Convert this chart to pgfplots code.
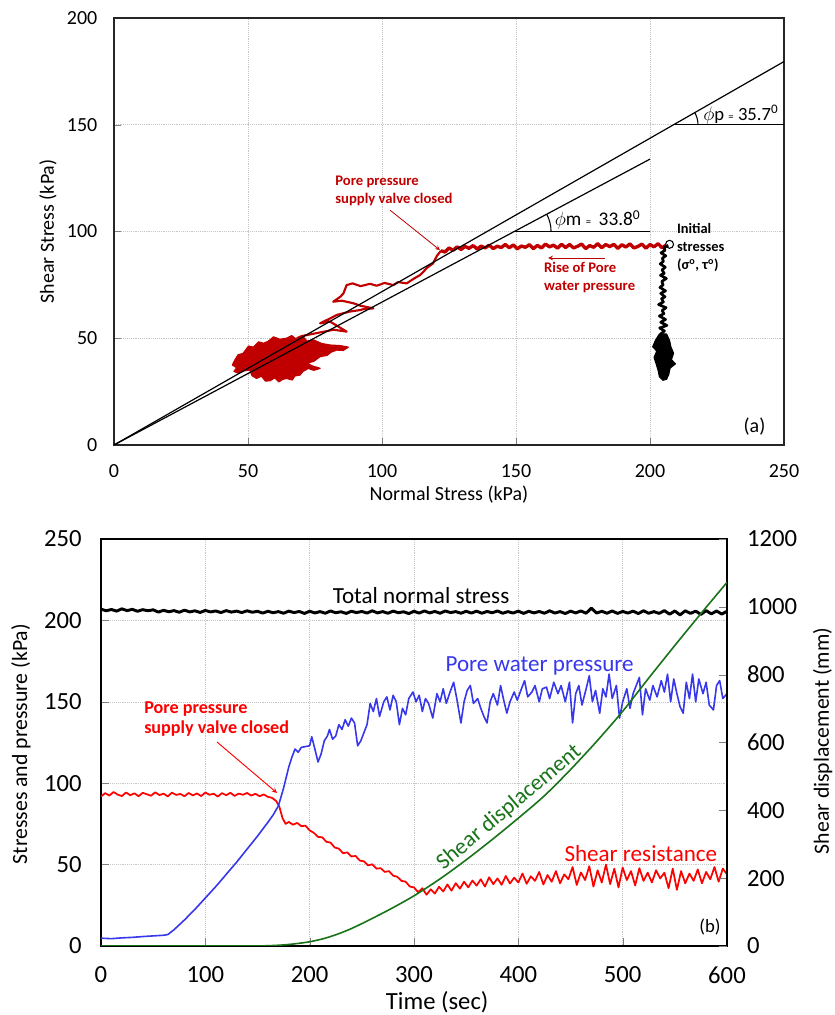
\documentclass[border=0pt]{standalone}
\usepackage{fontspec}
\setmainfont{Carlito}
\usepackage{pgfplots}
\pgfplotsset{compat=1.18}
\definecolor{darkred}{RGB}{192,0,0}
\definecolor{pwpblue}{RGB}{55,55,235}
\definecolor{dispgreen}{RGB}{25,115,25}

\begin{document}
\begin{tikzpicture}
\useasboundingbox (0,0) rectangle (626.25pt,761.25pt);

% ---------- panel (a): stress path ----------
\begin{axis}[
  at={(85.5pt,427.5pt)}, anchor=south west,
  scale only axis, width=502.5pt, height=320.25pt,
  xmin=0, xmax=250, ymin=0, ymax=200,
  xtick={0,50,...,250}, ytick={0,50,...,200},
  tick pos=left, tick align=inside, major tick length=5pt,
  grid=major, major grid style={densely dotted, gray!45},
  axis line style={black!85, line width=0.8pt},
  /pgf/number format/assume math mode=true,
  ticklabel style={font=\fontsize{15}{15}\selectfont},
  xticklabel style={yshift=-11pt}, yticklabel style={xshift=-9pt},
  xlabel={Normal Stress (kPa)}, ylabel={Shear Stress (kPa)},
  label style={font=\fontsize{15}{15}\selectfont},
  xlabel style={at={(axis description cs:0.5,-0.115)}, anchor=center},
  ylabel style={at={(axis description cs:-0.0985,0.5)}, anchor=center},
]
% stress path after closing valve (red): horizontal part
\addplot[darkred, line width=2.5pt, line join=round] coordinates {
(206,93.6)(204.5,92.4)(203,94.3)(201.5,92.8)(200,93.9)(198.5,92.2)(197,94.1)(195.5,93.0)(194,92.3)(192.5,94.2)
(191,92.7)(189.5,93.8)(188,92.1)(186.5,94.0)(185,92.9)(183.5,93.9)(182,92.4)(180.5,94.3)(179,92.6)(177.5,93.4)
(176,92.0)(174.5,94.1)(173,93.1)(171.5,92.3)(170,93.9)(168.5,92.5)(167,94.0)(165.5,92.2)(164,93.6)(162.5,92.8)
(161,94.1)(159.5,92.3)(158,93.5)(156.5,92.0)(155,93.8)(153.5,92.6)(152,93.2)(150.5,91.9)(149,93.7)(147.5,92.4)
(146,93.9)(144.5,92.5)(143,93.1)(141.5,92.0)(140,93.6)(138.5,92.3)(137,93.2)(135.5,91.8)(134,93.4)(132.5,92.1)
(131,93.0)(129.5,91.6)(128,92.8)(126.5,91.2)(125,92.3)(123.5,90.4)(122,91.0)
};
% red: descent along the envelope
\addplot[darkred, line width=1.6pt, line join=round] coordinates {
(122,91.0)(120.5,88.6)(119,85.0)(117,83.2)(114.2,79.6)(112,78.0)(109.2,75.7)(106,76.3)(104.2,74.9)(101,75.9)
(98,74.6)(95.5,75.5)(92,74.4)(89,75.7)(86.8,74.9)(85.6,71.0)(84.5,69.5)(81.8,67.1)(85,67.6)(89.3,66.4)
(92,65.2)(96.8,64.0)(93,63.6)(91.8,63.2)(88,62.5)(83.1,60.9)(81,59.5)(76.9,57.0)(80.6,57.8)(83,56.0)
(86.8,53.1)(82,54.0)(78,53.0)(74,52.0)(70,51.0)(68.2,50.0)
};
% red: dense end of the path
\addplot[darkred, fill=darkred, line width=1pt, line join=round] coordinates {
(45.1,39.8)(44.2,37.5)(45.8,36.2)(44.8,34.5)(46.5,33.6)(48.5,34.8)(50.7,35.1)(51.5,32.5)(53.2,31.2)(55,32.3)
(56.5,30.0)(58.2,30.1)(60,31.5)(61.5,29.6)(63,30.8)(64.4,31.2)(66.5,30.5)(67.5,32.4)(69.4,32.8)(70.5,34.5)
(72.5,35.9)(74.5,35.0)(76.9,35.9)(74,37.0)(71.9,38.3)(74.5,39.2)(76.9,41.4)(79.5,42.0)(81,43.5)(83.1,44.5)
(85.5,44.3)(87.4,45.8)(84.5,46.5)(80.6,46.8)(77.5,47.5)(74.4,49.2)(72,48.6)(70.6,50.7)(68,49.6)(66.3,51.2)
(64.4,50.0)(61.9,49.5)(59.5,50.6)(57.5,48.5)(55.7,47.6)(54,48.3)(52,45.8)(50.2,46.3)(48.2,42.9)(46.3,42.2)
(45.1,39.8)
};
% stress path before closing valve (black)
\addplot[black, line width=2pt, line join=round] coordinates {
(206.8,93.5)(205.2,92.5)(205.6,91.2)(204.1,90.0)(205.9,88.6)(204.6,87.5)(205.0,86.0)(203.8,84.8)(205.7,83.3)(204.5,82.0)
(205.3,80.4)(203.9,79.5)(206.1,78.0)(204.4,76.6)(204.9,75.0)(203.7,73.8)(205.8,72.2)(204.0,71.0)(205.6,69.4)(204.3,68.5)
(205.0,67.0)(203.2,65.8)(206.0,64.3)(204.5,63.0)(205.2,61.5)(203.5,60.4)(205.8,58.8)(204.0,57.5)(206.3,56.0)(203.6,54.8)
(205.4,53.4)(204.0,52.0)(206.0,50.5)
};
\addplot[black, fill=black, line width=0.8pt, line join=round] coordinates {
(203.5,52)(202,49)(201,46)(202.5,44)(201.5,41)(202.3,38)(203,35)(203.5,32)(204.8,30.3)(206.2,30.8)
(207,33)(207.5,36)(209.5,38)(208,40)(208.8,43)(207.8,46)(207.3,49)(206.2,52)(203.5,52)
};
\addplot[black, only marks, mark=o, mark size=3pt, mark options={fill=white, line width=0.8pt}]
  coordinates {(207.3,94)};

% failure envelopes
\addplot[black, line width=0.9pt] coordinates {(0,0) (250,179.6)};
\addplot[black, line width=0.9pt] coordinates {(0,0) (200,133.9)};
\addplot[black, line width=0.9pt] coordinates {(208.7,150) (250,150)};
\addplot[black, line width=0.9pt] coordinates {(149.4,100) (200,100)};

% angle arcs
\draw[black, line width=0.8pt] (axis cs:208.7,150) ++(0:18.5pt) arc[start angle=0, end angle=30, radius=18.5pt];
\draw[black, line width=0.8pt] (axis cs:149.4,100) ++(0:27.5pt) arc[start angle=0, end angle=28, radius=27.5pt];
\node[anchor=west, font=\fontsize{14}{14}\selectfont, inner sep=0pt] at (axis cs:219.8,154.6)
  {$\phi$p {\fontsize{8}{8}\selectfont =} 35.7\textsuperscript{0}};
\node[anchor=west, font=\fontsize{14.5}{15}\selectfont, inner sep=0pt] at (axis cs:164.4,105.4)
  {$\phi$m {\fontsize{8}{8}\selectfont =}\, 33.8\textsuperscript{0}};

% annotations
\node[anchor=north west, align=left, inner sep=0pt, font=\fontsize{10.8}{13.5}\selectfont\bfseries]
  at (axis cs:210,104) {Initial\\stresses\\(σ\textsuperscript{o}, τ\textsuperscript{o})};
\node[anchor=north west, align=left, inner sep=0pt, text=darkred, font=\fontsize{11}{13.5}\selectfont\bfseries]
  at (axis cs:82.5,126) {Pore pressure\\supply valve closed};
\draw[darkred, line width=0.6pt, -stealth] (axis cs:103,110) -- (axis cs:121.6,91.3);
\node[anchor=north west, align=left, inner sep=0pt, text=darkred, font=\fontsize{11}{13.5}\selectfont\bfseries]
  at (axis cs:160.4,85.8) {Rise of Pore\\water pressure};
\draw[darkred, line width=0.6pt, -stealth] (axis cs:183.2,87.6) -- (axis cs:162,87.6);
\node[font=\fontsize{15}{15}\selectfont] at (axis cs:239,8.4) {(a)};
\end{axis}

% ---------- panel (b): time histories ----------
\begin{axis}[
  at={(75.75pt,51.75pt)}, anchor=south west,
  scale only axis, width=469.5pt, height=305.25pt,
  xmin=0, xmax=600, ymin=0, ymax=250,
  xtick={0,100,...,600}, ytick={0,50,...,250},
  tick pos=left, tick align=inside, major tick length=6pt,
  grid=major, major grid style={densely dotted, gray!45},
  axis line style={black, line width=1.1pt},
  /pgf/number format/assume math mode=true,
  ticklabel style={font=\fontsize{18.5}{18.5}\selectfont},
  xticklabel style={yshift=-12pt}, yticklabel style={xshift=-11pt},
  xlabel={Time (sec)}, ylabel={Stresses and pressure (kPa)},
  label style={font=\fontsize{18.5}{18.5}\selectfont},
  xlabel style={at={(axis description cs:0.537,-0.137)}, anchor=center},
  ylabel style={at={(axis description cs:-0.128,0.496)}, anchor=center, font=\fontsize{16.3}{16.3}\selectfont},
]
% total normal stress
\addplot[black, line width=2.2pt, line join=round] coordinates {
(0,206.9)(5,205.9)(10,206.7)(15,205.7)(20,207.1)(25,206.0)(30,206.8)(35,205.6)(40,206.6)(45,205.9)(50,206.5)
(55,205.1)(60,206.2)(65,205.3)(70,206.0)(75,205.0)(80,206.3)(85,205.2)(90,205.9)(95,204.9)(100,206.1)
(105,205.2)(110,205.8)(115,204.8)(120,206.0)(125,205.1)(130,205.7)(135,204.8)(140,205.9)(145,205.0)(150,205.6)
(155,204.5)(160,205.6)(165,204.7)(170,205.4)(175,204.4)(180,205.7)(185,204.8)(190,205.5)(195,204.3)(200,205.6)
(205,204.6)(210,205.4)(215,204.4)(220,205.8)(225,204.7)(230,205.3)(235,204.3)(240,205.6)(245,204.8)(250,205.5)
(255,204.5)(260,205.9)(265,204.6)(270,205.4)(275,204.4)(280,205.7)(285,204.7)(290,205.3)(295,204.2)(300,205.6)
(305,204.5)(310,205.8)(315,204.6)(320,205.5)(325,204.4)(330,205.8)(335,204.8)(340,205.4)(345,204.4)(350,205.6)
(355,204.5)(360,205.7)(365,204.4)(370,205.5)(375,204.7)(380,205.8)(385,204.4)(390,205.4)(395,204.5)(400,205.7)
(405,204.3)(410,205.6)(415,204.6)(420,205.5)(425,204.4)(430,205.9)(435,204.5)(440,205.4)(445,204.2)(450,205.7)
(455,204.6)(460,205.8)(465,204.4)(470,207.5)(475,204.5)(480,205.6)(485,204.4)(490,205.8)(495,204.3)(500,205.5)
(505,204.5)(510,205.7)(515,204.2)(520,205.9)(525,204.4)(530,205.4)(535,204.3)(540,206.0)(545,203.8)(550,205.8)
(555,203.4)(560,205.9)(565,204.3)(570,205.7)(575,203.7)(580,206.0)(585,204.0)(590,205.8)(595,203.9)(600,205.6)
};
% shear resistance
\addplot[red, line width=1.3pt, line join=round] coordinates {
(0,91.8)(4,93.9)(8,92.4)(12,94.6)(16,93.0)(20,92.1)(24,94.3)(28,92.6)(32,93.8)(36,92.0)(40,94.1)
(44,93.2)(48,92.3)(52,94.4)(56,92.7)(60,93.6)(64,91.9)(68,94.2)(72,92.8)(76,93.4)(80,92.0)(84,94.0)
(88,92.5)(92,93.7)(96,92.1)(100,94.3)(104,92.9)(108,93.5)(112,91.8)(116,93.9)(120,92.6)(124,94.1)
(128,92.2)(132,93.6)(136,92.9)(140,94.0)(144,92.4)(148,93.5)(152,92.0)(156,93.1)(160,91.6)
(164,91.0)(168,89.0)(171,85.5)(174,78.5)(177,75.0)(180,76.2)(184,74.5)(188,75.6)(192,73.6)(196,73.9)
(200,71.0)(204,69.5)(208,67.0)(212,66.8)(216,64.0)(220,63.5)(224,60.5)(228,59.8)(232,57.0)(236,57.5)
(240,55.0)(244,55.3)(248,52.5)(252,52.0)(256,49.5)(260,50.2)(264,47.5)(268,47.8)(272,45.5)(276,46.0)
(280,43.2)(284,42.5)(288,40.0)(292,39.5)(296,36.5)(300,36.0)
(304,33.0)(308,35.5)(312,31.5)(316,34.8)(320,32.2)(324,36.4)(328,33.5)(332,37.8)(336,34.0)(340,38.6)
(344,35.2)(348,39.5)(352,36.0)(356,40.2)(360,37.1)(364,41.0)(368,36.5)(372,42.2)(376,38.0)(380,41.5)
(384,37.6)(388,43.0)(392,38.4)(396,42.0)(400,39.0)(404,44.5)(408,38.2)(412,42.8)(416,40.0)(420,45.5)
(424,37.8)(428,43.6)(432,39.5)(436,46.0)(440,38.5)(444,44.0)(448,41.0)(452,48.5)(456,37.5)(460,45.2)
(464,40.5)(468,49.0)(472,36.5)(476,46.5)(480,39.0)(484,50.0)(488,38.0)(492,47.5)(496,36.0)(500,48.2)
(504,40.5)(508,46.0)(512,37.2)(516,47.8)(520,40.0)(524,45.0)(528,39.0)(532,46.5)(536,41.5)(540,45.0)
(544,35.5)(548,47.5)(552,34.5)(556,46.0)(560,38.5)(564,44.5)(568,40.0)(572,47.0)(576,38.5)(580,45.5)
(584,41.0)(588,48.5)(592,39.5)(596,47.5)(600,44.0)
};
% pore water pressure
\addplot[pwpblue, line width=1.2pt, line join=round] coordinates {
(0,4.8)(10,4.5)(20,5.0)(30,5.3)(40,5.8)(50,6.2)(60,6.6)(64,7.0)(70,10.0)(80,16.0)(90,22.5)(100,29.5)
(110,36.5)(120,44.0)(130,51.5)(140,59.5)(150,67.5)(160,76.0)(165,80.5)(170,86.0)(175,97.0)(180,110.0)
(183,116.0)(186,121.0)(189,119.0)(192,122.0)(196,122.5)(200,123.0)(202,128.5)(205,121.0)(208,113.0)(211,118.0)
(214,126.0)(217,129.0)(219,133.0)(222,127.0)(225,129.0)(228,136.0)(231,133.0)(234,139.0)(237,135.0)(240,140.0)
(243,137.0)(246,123.0)(249,126.0)(252,131.0)(255,136.0)(258,149.0)(261,144.0)(264,152.0)(267,141.0)(271,150.0)
(274,153.0)(277,145.0)(280,154.0)(283,150.0)(286,136.0)(289,146.0)(292,142.0)(295,152.0)(299,156.0)(302,150.0)
(305,154.0)(308,144.0)(311,152.0)(314,149.0)(318,140.0)(322,155.0)(325,150.0)(328,158.0)(331,149.0)(334,155.0)
(338,162.0)(341,152.0)(345,137.0)(348,150.0)(351,157.0)(354,160.0)(357,149.0)(361,152.0)(364,146.0)(367,141.0)
(370,137.0)(373,150.0)(376,155.0)(380,148.0)(383,160.0)(386,151.0)(389,143.0)(392,150.0)(396,156.0)(399,151.0)
(403,158.0)(406,163.0)(409,153.0)(413,156.0)(416,160.0)(420,150.0)(423,158.0)(427,159.0)(430,152.0)(434,162.0)
(438,155.0)(441,160.0)(445,150.0)(449,162.0)(452,137.0)(455,155.0)(458,160.0)(461,148.0)(465,158.0)(468,166.0)
(471,150.0)(474,157.0)(478,143.0)(481,158.0)(484,153.0)(487,167.0)(490,152.0)(494,160.0)(497,140.0)(500,150.0)
(504,158.0)(507,146.0)(510,155.0)(513,160.0)(516,165.0)(519,142.0)(522,158.0)(526,151.0)(529,160.0)(533,153.0)
(537,163.0)(540,156.0)(543,167.0)(546,150.0)(549,164.0)(552,155.0)(555,147.0)(558,143.0)(561,162.0)(564,152.0)
(567,167.0)(570,150.0)(573,164.0)(577,155.0)(580,162.0)(583,148.0)(587,145.0)(590,160.0)(593,163.0)(596,152.0)(600,155.0)
};
% annotations
\node[anchor=west, inner sep=0pt, font=\fontsize{17.3}{18}\selectfont] at (axis cs:222,215) {Total normal stress};
\node[anchor=west, inner sep=0pt, text=pwpblue, font=\fontsize{17.3}{18}\selectfont] at (axis cs:330,172) {Pore water pressure};
\node[anchor=west, inner sep=0pt, text=red, font=\fontsize{17.3}{18}\selectfont] at (axis cs:444,57) {Shear resistance};
\node[rotate=40, text=dispgreen, font=\fontsize{17}{18}\selectfont] at (axis cs:391,85) {Shear displacement};
\node[anchor=north west, align=left, inner sep=0pt, text=red, font=\fontsize{13.6}{15}\selectfont\bfseries]
  at (axis cs:41.2,150.5) {Pore pressure\\supply valve closed};
\draw[red, line width=0.7pt, -stealth] (axis cs:111.2,125.3) -- (axis cs:168.7,94);
\node[font=\fontsize{14}{14}\selectfont] at (axis cs:583.7,11.7) {(b)};
\end{axis}

\begin{axis}[
  at={(75.75pt,51.75pt)}, anchor=south west,
  scale only axis, width=469.5pt, height=305.25pt,
  xmin=0, xmax=600, ymin=0, ymax=1200,
  axis x line=none, axis y line*=right,
  ytick={0,200,...,1200}, tick align=inside, major tick length=6pt,
  axis line style={black, line width=1.1pt},
  /pgf/number format/assume math mode=true,
  /pgf/number format/set thousands separator={},
  ticklabel style={font=\fontsize{18.5}{18.5}\selectfont},
  yticklabel style={xshift=11.5pt},
  ylabel={Shear displacement (mm)},
  label style={font=\fontsize{16.3}{16.3}\selectfont},
  ylabel style={at={(axis description cs:1.153,0.504)}, anchor=center, rotate=0},
]
\addplot[dispgreen, line width=1.2pt, smooth, tension=0.5] coordinates {
(0,0)(140,0)(150,0.2)(160,0.8)(170,2.2)(180,4.5)(190,8)(200,12.5)(212.5,21)(225,33)(237.5,48)
(250,66)(275,105)(300,148)(325,198)(350,254)(375,314)(400,377)(425,443)(450,520)(475,603)
(500,692)(525,790)(550,886)(575,980)(600,1072)
};
\end{axis}
\end{tikzpicture}
\end{document}
